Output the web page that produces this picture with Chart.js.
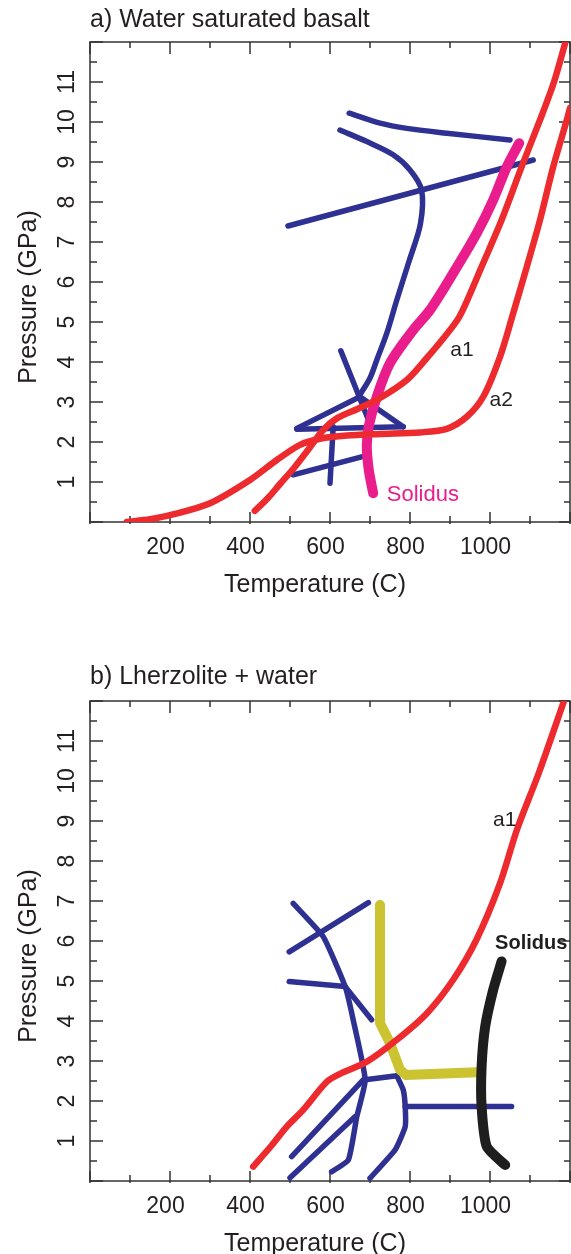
<!DOCTYPE html>
<html>
<head>
<meta charset="utf-8">
<script src="https://cdn.jsdelivr.net/npm/chart.js@4.4.1/dist/chart.umd.min.js"></script>
<style>
  html, body { margin: 0; padding: 0; background: #fff; overflow: hidden; }
  canvas { position: absolute; left: 0; }
  #chartA { top: 0; }
  #chartB { top: 627px; }
</style>
</head>
<body>
<canvas id="chartA" width="571" height="627"></canvas>
<canvas id="chartB" width="571" height="627"></canvas>
<script>
// axis ranges and labelled ticks
const tempTicks = [200, 400, 600, 800, 1000];
const pressTicks = [1, 2, 3, 4, 5, 6, 7, 8, 9, 10, 11];

// a) water saturated basalt, [temperature C, pressure GPa]
const basaltA1 = [[412,0.28],[445,0.6],[475,0.95],[510,1.35],[545,1.8],[583,2.3],[617,2.59],[670,2.83],[725,3.1],[792,3.55],[842,4.1],[880,4.55],[921,5.09],[950,5.7],[979,6.38],[1029,7.55],[1079,8.88],[1125,10.05],[1160,11.0],[1188,11.97]];
const basaltA2 = [[92,0],[150,0.07],[200,0.17],[300,0.47],[400,1.05],[467,1.55],[525,1.93],[575,2.08],[642,2.16],[725,2.2],[825,2.24],[892,2.33],[942,2.63],[983,3.13],[1025,4.13],[1058,5.22],[1092,6.38],[1125,7.55],[1158,8.88],[1192,10.05],[1200,10.35]];
const basaltSolidus = [[708,0.72],[697,1.3],[692,1.9],[697,2.4],[717,3.13],[750,3.97],[808,4.8],[850,5.3],[908,6.22],[967,7.22],[1008,8.05],[1042,8.88],[1073,9.47]];
const basaltPhase = [
  [[648,10.22],[725,9.97],[792,9.84],[892,9.72],[1050,9.55]],
  [[625,9.8],[692,9.51],[758,9.18],[800,8.8],[829,8.3],[826,7.45],[797,6.5],[767,5.55],[742,4.72],[717,4.05],[700,3.6],[675,3.18]],
  [[495,7.4],[1108,9.05]],
  [[627,4.28],[703,2.38]],
  [[517,2.34],[675,3.13],[783,2.38]],
  [[517,2.32],[783,2.38]],
  [[608,2.38],[600,0.97]],
  [[508,1.18],[679,1.63]]
];

// b) lherzolite + water
const lherzA1 = [[408,0.36],[455,0.9],[492,1.36],[533,1.78],[592,2.48],[625,2.68],[692,2.98],[767,3.53],[842,4.19],[908,5.03],[967,6.05],[1025,7.44],[1068,8.8],[1122,10.2],[1185,12.0]];
const lherzSolidus = [[1029,5.49],[1008,4.78],[988,3.86],[979,2.86],[979,1.86],[992,0.86],[1038,0.4]];
const lherzYellow = [[725,6.9],[725,3.95],[750,3.45],[775,2.78],[790,2.65],[967,2.72]];
const lherzPhase = [
  [[508,6.94],[583,6.11],[638,4.86],[658,4.03],[688,2.53],[667,1.61],[646,0.53],[604,0.23]],
  [[498,5.73],[696,6.96]],
  [[498,4.99],[638,4.86],[704,4.03]],
  [[688,2.53],[767,2.63]],
  [[767,2.63],[783,2.28],[788,1.86],[788,1.36],[763,0.78],[700,0.07]],
  [[788,1.86],[1054,1.86]],
  [[504,0.61],[683,2.53]],
  [[500,0.08],[663,1.61]]
];

const RED = '#ED2A2E', BLUE = '#2E3192', PINK = '#E91E8C', OLIVE = '#CCC331', BLACK = '#1E1E1E', INK = '#231F20';
const FONT = "'Liberation Sans', Arial, sans-serif";

Chart.defaults.font.family = FONT;
Chart.defaults.color = INK;

function series(points, color, width, tension) {
  return {
    data: points.map(([x, y]) => ({ x, y })),
    showLine: true,
    borderColor: color,
    backgroundColor: color,
    borderWidth: width,
    tension: tension,
    pointRadius: 0,
    borderCapStyle: 'round',
    borderJoinStyle: 'round',
    fill: false
  };
}

// frame, inward ticks, titles and curve labels
const decor = {
  id: 'decor',
  beforeDatasetsDraw(chart) {
    const { ctx, chartArea: a, scales: { x, y } } = chart;
    ctx.save();
    ctx.strokeStyle = '#333';
    ctx.lineWidth = 1.5;
    ctx.strokeRect(a.left, a.top, a.width, a.height);
    ctx.beginPath();
    for (let t = 0; t <= 1200; t += 100) {
      const px = x.getPixelForValue(t);
      const major = t % 200 === 0;
      ctx.moveTo(px, a.top);
      ctx.lineTo(px, a.top + (major ? 12 : 6));
      ctx.moveTo(px, a.bottom + 2);
      ctx.lineTo(px, a.bottom - (major ? 10 : 6));
    }
    for (let p = 0; p <= 12; p += 0.5) {
      const py = y.getPixelForValue(p);
      const major = p % 1 === 0;
      ctx.moveTo(a.left, py);
      ctx.lineTo(a.left + (major ? 13 : 7), py);
      ctx.moveTo(a.right, py);
      ctx.lineTo(a.right - (major ? 11 : 6), py);
    }
    ctx.stroke();
    ctx.restore();
  },
  afterDatasetsDraw(chart, args, opts) {
    const { ctx, chartArea: a, scales: { x, y } } = chart;
    ctx.save();
    ctx.fillStyle = INK;
    ctx.font = '25px ' + FONT;
    ctx.textAlign = 'left';
    ctx.textBaseline = 'alphabetic';
    ctx.fillText(opts.title, a.left, a.top - opts.titleGap);

    ctx.textAlign = 'center';
    ctx.fillText('Temperature (C)', (a.left + a.right) / 2 - 15, a.bottom + 70);

    ctx.save();
    ctx.translate(36, (a.top + a.bottom) / 2 + 15);
    ctx.rotate(-Math.PI / 2);
    ctx.fillText('Pressure (GPa)', 0, 0);
    ctx.restore();

    ctx.textBaseline = 'middle';
    for (const n of opts.notes) {
      ctx.fillStyle = n.color;
      ctx.font = (n.bold ? 'bold ' : '') + n.size + 'px ' + FONT;
      ctx.fillText(n.text, x.getPixelForValue(n.t), y.getPixelForValue(n.p));
    }
    ctx.restore();
  }
};

function noPad(s) {
  s.paddingLeft = 0;
  s.paddingRight = 0;
  s.paddingTop = 0;
  s.paddingBottom = 0;
}

function makeChart(id, datasets, cfg) {
  return new Chart(document.getElementById(id), {
    type: 'scatter',
    data: { datasets },
    plugins: [decor],
    options: {
      responsive: false,
      animation: false,
      events: [],
      layout: { padding: { top: cfg.top, right: 1, left: 0, bottom: cfg.bottom } },
      plugins: {
        legend: { display: false },
        tooltip: { enabled: false },
        decor: { title: cfg.title, titleGap: cfg.titleGap, notes: cfg.notes }
      },
      scales: {
        x: {
          type: 'linear', min: 0, max: 1200,
          afterFit: s => { s.height = 60; noPad(s); },
          grid: { display: false, drawTicks: false },
          border: { display: false },
          ticks: {
            stepSize: 100, autoSkip: false, maxRotation: 0, padding: 12, labelOffset: -4.5,
            font: { size: 23 }, color: INK,
            callback: v => tempTicks.includes(v) ? String(v) : ''
          }
        },
        y: {
          type: 'linear', min: 0, max: 12,
          afterFit: s => { s.width = 90; noPad(s); },
          grid: { display: false, drawTicks: false },
          border: { display: false },
          ticks: {
            stepSize: 1, autoSkip: false, minRotation: 90, maxRotation: 90, crossAlign: 'center', padding: 10,
            font: { size: 23 }, color: INK,
            callback: v => pressTicks.includes(v) ? String(v) : ''
          }
        }
      }
    }
  });
}

makeChart('chartA', [
  series(basaltA1, RED, 6.5, 0.3),
  series(basaltA2, RED, 6.5, 0.3),
  series(basaltSolidus, PINK, 10, 0.3),
  ...basaltPhase.map((p, i) => series(p, BLUE, 5.5, i < 2 ? 0.3 : 0))
], {
  top: 42, bottom: 627 - 522 - 60, titleGap: 15,
  title: 'a) Water saturated basalt',
  notes: [
    { text: 'a1', t: 930, p: 4.3, size: 21, color: INK },
    { text: 'a2', t: 1028, p: 3.05, size: 21, color: INK },
    { text: 'Solidus', t: 832, p: 0.68, size: 22, color: PINK }
  ]
});

makeChart('chartB', [
  series(lherzA1, RED, 6.5, 0.3),
  series(lherzSolidus, BLACK, 10, 0.2),
  series(lherzYellow, OLIVE, 10, 0),
  ...lherzPhase.map((p, i) => series(p, BLUE, 5.5, i === 0 || i === 4 ? 0.15 : 0))
], {
  top: 74, bottom: 627 - 554 - 60, titleGap: 17,
  title: 'b) Lherzolite + water',
  notes: [
    { text: 'a1', t: 1037, p: 9.03, size: 21, color: INK },
    { text: 'Solidus', t: 1103, p: 5.95, size: 20, bold: true, color: BLACK }
  ]
});
</script>
</body>
</html>
